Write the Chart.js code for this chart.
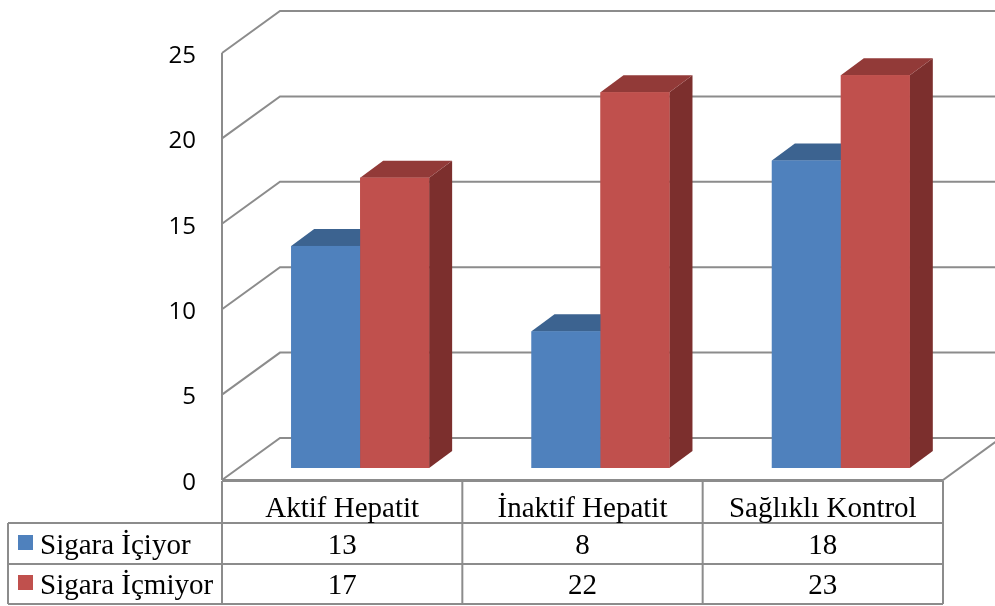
<!DOCTYPE html>
<html>
<head>
<meta charset="utf-8">
<script src="https://cdn.jsdelivr.net/npm/chart.js@4/dist/chart.umd.min.js"></script>
<style>
  html, body { margin: 0; padding: 0; background: #fff; }
  #wrap { width: 995px; height: 606px; }
</style>
</head>
<body>
<div id="wrap"><canvas id="c" width="995" height="606"></canvas></div>
<script>
// Groups and series
const categories = ['Aktif Hepatit', 'İnaktif Hepatit', 'Sağlıklı Kontrol'];
const seriesNames = ['Sigara İçiyor', 'Sigara İçmiyor'];
const smokers = [13, 8, 18];
const nonSmokers = [17, 22, 23];
const yMin = 0, yMax = 25, yStep = 5;

// Face colours: front, top, side
const blueFaces = ['#4F81BD', '#3C6390', '#385D8A'];
const redFaces = ['#C0504D', '#923A38', '#7C2F2D'];

// 3D offsets (px) of the floor relative to the plane the bars stand on
const FRONT = { dx: -18, dy: 12 };   // front edge of the floor / value axis
const BACK = { dx: 40, dy: -30 };    // back wall
const BAR_DEPTH = { dx: 23, dy: -17 };

const gridColor = '#8C8C8C';
const serif = '"Liberation Serif", "Times New Roman", serif';

function poly(ctx, pts, fill) {
  ctx.beginPath();
  ctx.moveTo(pts[0][0], pts[0][1]);
  for (let i = 1; i < pts.length; i++) ctx.lineTo(pts[i][0], pts[i][1]);
  ctx.closePath();
  ctx.fillStyle = fill;
  ctx.fill();
}

const walls3d = {
  id: 'walls3d',
  beforeDatasetsDraw(chart) {
    const { ctx, chartArea: a, scales: { y } } = chart;
    ctx.save();
    ctx.strokeStyle = gridColor;
    ctx.lineWidth = 2;
    ctx.lineJoin = 'miter';
    const fx = a.left + FRONT.dx, bx = a.left + BACK.dx;
    const rightBack = a.right + BACK.dx;
    // side wall diagonals + back wall gridlines
    y.ticks.forEach(t => {
      const py = y.getPixelForValue(t.value);
      ctx.beginPath();
      ctx.moveTo(fx, py + FRONT.dy);
      ctx.lineTo(bx, py + BACK.dy);
      ctx.lineTo(rightBack + 10, py + BACK.dy);
      ctx.stroke();
    });
    // front value axis line
    ctx.beginPath();
    ctx.moveTo(fx, y.getPixelForValue(yMax) + FRONT.dy);
    ctx.lineTo(fx, y.getPixelForValue(yMin) + FRONT.dy);
    ctx.stroke();
    // floor front and right edges
    const p0 = y.getPixelForValue(yMin);
    ctx.beginPath();
    ctx.moveTo(fx, p0 + FRONT.dy);
    ctx.lineTo(a.right + FRONT.dx, p0 + FRONT.dy);
    ctx.lineTo(rightBack, p0 + BACK.dy);
    ctx.stroke();
    ctx.restore();
  },
  afterDatasetsDraw(chart) {
    const { ctx } = chart;
    const faces = [blueFaces, redFaces];
    ctx.save();
    categories.forEach((_, i) => {
      chart.data.datasets.forEach((ds, d) => {
        const el = chart.getDatasetMeta(d).data[i];
        const { x, y, base, width } = el.getProps(['x', 'y', 'base', 'width'], true);
        const l = x - width / 2, r = x + width / 2;
        const { dx, dy } = BAR_DEPTH;
        const f = faces[d];
        poly(ctx, [[r, y], [r + dx, y + dy], [r + dx, base + dy], [r, base]], f[2]);
        poly(ctx, [[l, y], [l + dx, y + dy], [r + dx, y + dy], [r, y]], f[1]);
        ctx.fillStyle = f[0];
        ctx.fillRect(l, y, width, base - y);
      });
    });
    ctx.restore();
  }
};

const dataTable = {
  id: 'dataTable',
  afterDraw(chart) {
    const { ctx, chartArea: a, scales: { y } } = chart;
    const cw = (a.right - a.left) / categories.length;
    const cols = [];
    for (let k = 0; k <= categories.length; k++) cols.push(a.left + FRONT.dx + k * cw);
    const top = y.getPixelForValue(yMin) + FRONT.dy + 1;
    const rows = [top, 523, 564, 604];
    const legendLeft = 8;
    ctx.save();
    ctx.strokeStyle = gridColor;
    ctx.lineWidth = 2;
    ctx.beginPath();
    // horizontal rules
    ctx.moveTo(cols[0], rows[0]); ctx.lineTo(cols[cols.length - 1], rows[0]);
    for (let r = 1; r < rows.length; r++) {
      ctx.moveTo(legendLeft, rows[r]); ctx.lineTo(cols[cols.length - 1], rows[r]);
    }
    // vertical rules
    cols.forEach(cx => { ctx.moveTo(cx, rows[0]); ctx.lineTo(cx, rows[3]); });
    ctx.moveTo(legendLeft, rows[1]); ctx.lineTo(legendLeft, rows[3]);
    ctx.stroke();

    ctx.fillStyle = '#000';
    ctx.font = '29px ' + serif;
    ctx.textBaseline = 'alphabetic';
    ctx.textAlign = 'center';
    categories.forEach((c, k) => {
      ctx.fillText(c, (cols[k] + cols[k + 1]) / 2, 517);
    });
    const series = [smokers, nonSmokers];
    const baselines = [554, 594];
    series.forEach((vals, s) => {
      vals.forEach((v, k) => {
        ctx.fillText(String(v), (cols[k] + cols[k + 1]) / 2, baselines[s]);
      });
    });
    // legend keys
    ctx.textAlign = 'left';
    const keyColors = [blueFaces[0], redFaces[0]];
    seriesNames.forEach((n, s) => {
      ctx.fillStyle = keyColors[s];
      ctx.fillRect(18, baselines[s] - 19, 15, 15);
      ctx.fillStyle = '#000';
      ctx.fillText(n, 40, baselines[s]);
    });
    ctx.restore();
  }
};

new Chart(document.getElementById('c'), {
  type: 'bar',
  data: {
    labels: categories,
    datasets: [
      { label: seriesNames[0], data: smokers, backgroundColor: blueFaces[0], borderWidth: 0 },
      { label: seriesNames[1], data: nonSmokers, backgroundColor: redFaces[0], borderWidth: 0 }
    ]
  },
  options: {
    responsive: false,
    animation: false,
    devicePixelRatio: 1,
    layout: { padding: { left: 140, right: 34, top: 41, bottom: 138 } },
    datasets: { bar: { barPercentage: 1, categoryPercentage: 0.574 } },
    plugins: { legend: { display: false }, tooltip: { enabled: false } },
    scales: {
      x: { display: false },
      y: {
        min: yMin, max: yMax,
        afterFit(scale) {
          // fixed axis width; the layout padding alone sets the plot's top and bottom
          scale.width = 100;
          scale.paddingTop = 0;
          scale.paddingBottom = 0;
        },
        border: { display: false },
        grid: { display: false, drawTicks: false },
        ticks: {
          stepSize: yStep,
          padding: 44,
          labelOffset: 15,
          color: '#000',
          font: { family: '"Open Sans", sans-serif', size: 24 }
        }
      }
    }
  },
  plugins: [walls3d, dataTable]
});
</script>
</body>
</html>
